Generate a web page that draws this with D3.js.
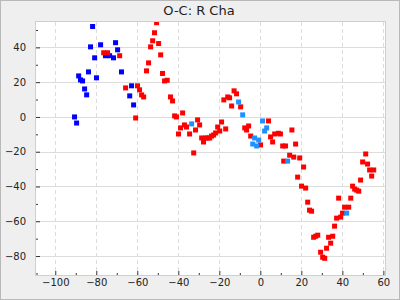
<!DOCTYPE html>
<html>
<head>
<meta charset="utf-8">
<script src="https://cdn.jsdelivr.net/npm/d3@7"></script>
<style>
body { margin: 0; }
text { font-family: "DejaVu Sans", sans-serif; }
.tick text { font-size: 10px; fill: #222; }
.tick line { stroke: #333; }
</style>
</head>
<body>
<div id="chart"></div>
<script>
// chart data: [x, y] pairs for each colour
var title = "O-C: R Cha";
var xTicks = [-100, -80, -60, -40, -20, 0, 20, 40, 60];
var yTicks = [-80, -60, -40, -20, 0, 20, 40];
var xMinor = [-90, -70, -50, -30, -10, 10, 30, 50];
var yMinor = [-90, -70, -50, -30, -10, 10, 30, 50];

var bluePts = [[-81.8,52.0],[-82.8,40.3],[-77.9,41.5],[-80.8,34.0],[-70.6,42.7],[-69.6,38.6],
  [-71.6,34.0],[-75.5,35.2],[-73.5,35.2],[-88.6,23.6],[-87.7,21.3],[-86.7,20.7],[-83.8,25.9],
  [-79.9,22.5],[-67.7,25.9],[-85.7,16.1],[-84.7,12.7],[-90.6,0],[-89.6,-3.5],[-62.8,17.9],
  [-63.7,12.1],[-61.8,6.9]];

var redPts = [[-76.4,36.9],[-74.5,36.9],[-68.6,35.2],[-65.7,16.7],[-60.8,-0.6],[-59.9,17.9],
  [-58.9,15.6],[-57.9,12.7],[-56.9,11.5],[-55.5,26.5],[-54.5,31.1],[-53.5,40.3],[-52.5,43.8],
  [-51.6,48.4],[-50.6,54.2],[-49.6,42.2],[-48.6,35.7],[-47.7,25.0],[-46.7,20.7],[-45.4,21.1],
  [-43.8,11.5],[-42.8,9.2],[-41.8,0.6],[-40.9,0],[-39.9,-9.8],[-38.9,-6.3],[-37.9,2.3],
  [-37.0,-4.6],[-36.0,-5.8],[-34.5,-9.8],[-32.5,-20.7],[-31.6,-7.5],[-30.6,-1.7],[-29.6,-4.6],
  [-28.6,-12.1],[-27.7,-14.4],[-26.7,-12.1],[-25.7,-12.1],[-24.7,-12.1],[-23.8,-11.0],
  [-22.8,-10.4],[-21.8,-9.2],[-20.8,-5.8],[-19.8,-8.1],[-18.9,-2.9],[-17.8,9.8],[-16.9,-6.9],
  [-15.9,11.5],[-15.0,11.0],[-14.0,6.3],[-12.8,15.0],[-11.6,13.3],[-9.6,5.8],[-7.6,-6.3],
  [-6.7,-7.5],[-5.7,-5.2],[-4.7,-11.0],[0.1,-16.1],[4.0,-2.3],[5.0,-11.5],[6.0,-14.4],
  [7.0,-9.8],[8.8,-9.4],[9.8,-9.8],[10.9,-16.7],[12.3,-16.7],[15.4,-7.5],[17.2,-15.6],
  [11.4,-25.4],[14.3,-22.0],[16.3,-23.1],[19.2,-23.6],[21.1,-28.8],[18.2,-34.6],[20.1,-39.8],
  [22.1,-40.9],[23.1,-49.0],[24.0,-53.6],[25.0,-54.2],[26.0,-69.2],[27.0,-68.6],[28.0,-68.0],
  [29.4,-77.8],[30.4,-80.7],[31.4,-81.3],[32.3,-75.5],[33.3,-69.2],[35.3,-68.6],[34.3,-72.6],
  [36.2,-62.8],[37.2,-58.2],[39.2,-57.6],[40.1,-55.3],[38.2,-46.7],[41.1,-51.9],[43.1,-51.9],
  [44.1,-46.7],[45.0,-39.8],[46.0,-41.5],[47.0,-42.1],[48.0,-42.7],[48.9,-36.3],[49.9,-25.9],
  [51.4,-21.3],[52.3,-27.1],[53.3,-30.5],[55.3,-30.5],[54.3,-34.0]];

var lightPts = [[-33.5,-4.0],[-10.6,8.6],[-8.6,1.2],[1.1,-2.3],[3.1,-6.3],[2.1,-8.1],
  [-2.8,-12.1],[-0.8,-13.3],[-3.7,-15.6],[-1.8,-16.7],[13.3,-25.4],[42.1,-55.3]];

var margin = {top: 22, right: 15, bottom: 25, left: 36},
  width = 400 - margin.left - margin.right,
  height = 300 - margin.top - margin.bottom;

var x = d3.scaleLinear().domain([-109.4, 60.8]).range([0, width]);
var y = d3.scaleLinear().domain([54.6, -90.9]).range([0, height]);

var root = d3.select("#chart").append("svg")
  .attr("width", 400)
  .attr("height", 300);

// grey page + border
root.append("rect")
  .attr("x", 0.5).attr("y", 0.5)
  .attr("width", 399).attr("height", 299)
  .attr("fill", "#efefef")
  .attr("stroke", "#b9b9b9");

root.append("text")
  .attr("x", 199)
  .attr("y", 15)
  .attr("text-anchor", "middle")
  .attr("font-size", "13px")
  .attr("fill", "#222")
  .text(title);

var svg = root.append("g")
  .attr("transform", "translate(" + margin.left + "," + margin.top + ")");

svg.append("clipPath")
  .attr("id", "plotclip")
  .append("rect")
  .attr("width", width)
  .attr("height", height);

svg.append("rect")
  .attr("width", width)
  .attr("height", height)
  .attr("fill", "#fff");

// grid
svg.selectAll(".hgrid")
  .data(yTicks)
  .enter().append("line")
  .attr("class", "hgrid")
  .attr("x1", 0).attr("x2", width)
  .attr("y1", function(d) { return Math.round(y(d)) + 0.5; })
  .attr("y2", function(d) { return Math.round(y(d)) + 0.5; })
  .attr("stroke", "#dcdcdc");

svg.selectAll(".vgrid")
  .data(xTicks)
  .enter().append("line")
  .attr("class", "vgrid")
  .attr("y1", 0).attr("y2", height)
  .attr("x1", function(d) { return Math.round(x(d)) + 0.5; })
  .attr("x2", function(d) { return Math.round(x(d)) + 0.5; })
  .attr("stroke", "#dcdcdc")
  .attr("stroke-dasharray", "4,3");

// frame
svg.append("rect")
  .attr("x", -0.5).attr("y", -0.5)
  .attr("width", width + 1)
  .attr("height", height + 1)
  .attr("fill", "none")
  .attr("stroke", "#cfcfcf");

// axes, ticks point inward
svg.append("g")
  .call(d3.axisLeft(y).tickValues(yTicks).tickSize(-4).tickPadding(10))
  .call(function(g) { g.select(".domain").remove(); });
svg.append("g")
  .call(d3.axisLeft(y).tickValues(yMinor).tickSize(-2).tickFormat(""))
  .call(function(g) { g.select(".domain").remove(); });

svg.append("g")
  .attr("transform", "translate(0," + height + ")")
  .call(d3.axisBottom(x).tickValues(xTicks).tickSize(-4).tickPadding(4))
  .call(function(g) { g.select(".domain").remove(); });
svg.append("g")
  .attr("transform", "translate(0," + height + ")")
  .call(d3.axisBottom(x).tickValues(xMinor).tickSize(-2).tickFormat(""))
  .call(function(g) { g.select(".domain").remove(); });

// points, clipped to the plot box
var pts = svg.append("g").attr("clip-path", "url(#plotclip)");

function drawPts(data, color) {
  pts.append("g").selectAll("rect")
    .data(data)
    .enter().append("rect")
    .attr("x", function(d) { return x(d[0]) - 2.5; })
    .attr("y", function(d) { return y(d[1]) - 2.5; })
    .attr("width", 5)
    .attr("height", 5)
    .attr("fill", color);
}
drawPts(bluePts, "#0000ff");
drawPts(redPts, "#ff0000");
drawPts(lightPts, "#1e90ff");
</script>
</body>
</html>
